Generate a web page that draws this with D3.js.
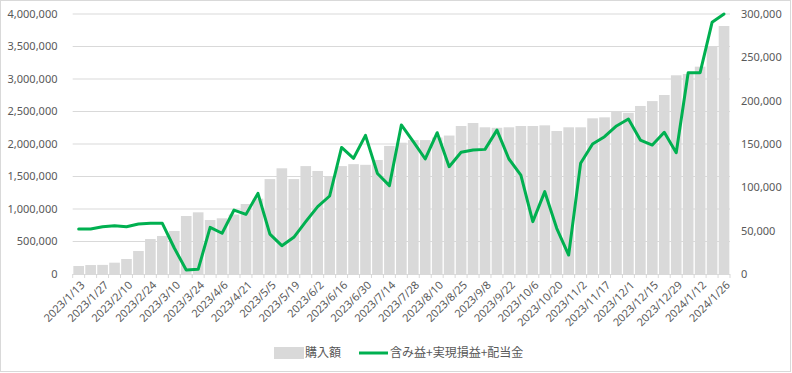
<!DOCTYPE html>
<html lang="ja">
<head>
<meta charset="utf-8">
<script src="https://d3js.org/d3.v7.min.js"></script>
<style>
  body { margin: 0; background: #fff; }
  .tick-label { font: 11px "Noto Sans", sans-serif; fill: #595959; }
  .legend-label { font: 12px "Noto Sans CJK JP", sans-serif; fill: #595959; }
</style>
</head>
<body>
<div id="chart"></div>
<script>
  // weekly dates (every other one is labelled)
  var dates = ["2023/1/13","2023/1/20","2023/1/27","2023/2/3","2023/2/10","2023/2/17","2023/2/24",
    "2023/3/3","2023/3/10","2023/3/17","2023/3/24","2023/3/31","2023/4/6","2023/4/14","2023/4/21",
    "2023/4/28","2023/5/5","2023/5/12","2023/5/19","2023/5/26","2023/6/2","2023/6/9","2023/6/16",
    "2023/6/23","2023/6/30","2023/7/7","2023/7/14","2023/7/21","2023/7/28","2023/8/4","2023/8/10",
    "2023/8/18","2023/8/25","2023/9/1","2023/9/8","2023/9/15","2023/9/22","2023/9/29","2023/10/6",
    "2023/10/13","2023/10/20","2023/10/27","2023/11/2","2023/11/10","2023/11/17","2023/11/24",
    "2023/12/1","2023/12/8","2023/12/15","2023/12/22","2023/12/29","2024/1/5","2024/1/12",
    "2024/1/19","2024/1/26"];

  // 購入額 (left axis)
  var purchase = [123000,138000,140000,174000,231000,354000,538000,585000,662000,892000,
    949000,831000,857000,915000,1077000,1160000,1460000,1626000,1460000,1660000,
    1585000,1500000,1660000,1690000,1680000,1754000,1970000,2020000,2060000,2060000,
    2100000,2130000,2277000,2323000,2257000,2250000,2257000,2277000,2277000,2287000,
    2200000,2257000,2257000,2395000,2410000,2508000,2480000,2585000,2660000,2754000,
    3057000,3077000,3190000,3508000,3815000];

  // 含み益+実現損益+配当金 (right axis)
  var profit = [52000,52000,54600,55800,54600,57700,58500,58500,30000,4600,
    5400,53800,47000,73800,68800,93000,46000,32700,42300,60400,
    77700,90000,146000,133500,160000,116000,102000,172000,152700,132700,
    163000,123800,140400,143000,143800,166000,132700,114000,60400,95000,
    52700,21900,127700,150000,158400,170800,178800,154600,148800,163500,
    140000,232300,232300,290400,300000];

  var leftTicks = [0,500000,1000000,1500000,2000000,2500000,3000000,3500000,4000000];
  var rightTicks = [0,50000,100000,150000,200000,250000,300000];

  var W = 792, H = 373;
  var plotL = 72.7, plotR = 730, plotT = 14, plotB = 274;
  var barColor = "#d9d9d9", lineColor = "#00b050", gridColor = "#d9d9d9";

  var svg = d3.select("#chart").append("svg")
      .attr("width", W)
      .attr("height", H);

  svg.append("rect")
      .attr("x", 0.5).attr("y", 0.5)
      .attr("width", W - 2).attr("height", H - 2)
      .attr("fill", "#fff")
      .attr("stroke", "#d9d9d9");

  var xCat = d3.scaleBand().domain(dates).range([plotL, plotR]).padding(0);
  var xBar = d3.scaleBand().domain(dates).range([plotL, plotR])
      .paddingInner(0.11).paddingOuter(0.055);
  var yL = d3.scaleLinear().domain([0, 4000000]).range([plotB, plotT]);
  var yR = d3.scaleLinear().domain([0, 300000]).range([plotB, plotT]);
  var fmt = d3.format(",");

  // gridlines
  svg.selectAll(".grid")
      .data(leftTicks.slice(1)).enter()
      .append("line")
      .attr("x1", plotL).attr("x2", plotR)
      .attr("y1", function(d) { return yL(d); })
      .attr("y2", function(d) { return yL(d); })
      .attr("stroke", gridColor)
      .attr("stroke-width", 1);

  // bars
  svg.selectAll(".bar")
      .data(dates).enter()
      .append("rect")
      .attr("x", function(d) { return xBar(d); })
      .attr("width", xBar.bandwidth())
      .attr("y", function(d, i) { return yL(purchase[i]); })
      .attr("height", function(d, i) { return plotB - yL(purchase[i]); })
      .attr("fill", barColor);

  // x axis line + ticks at category boundaries
  svg.append("line")
      .attr("x1", plotL).attr("x2", plotR)
      .attr("y1", plotB + 0.5).attr("y2", plotB + 0.5)
      .attr("stroke", gridColor);

  var bounds = dates.map(function(d) { return xCat(d); }).concat([plotR]);
  svg.selectAll(".xtick")
      .data(bounds).enter()
      .append("line")
      .attr("x1", function(d) { return d; })
      .attr("x2", function(d) { return d; })
      .attr("y1", plotB).attr("y2", plotB + 4)
      .attr("stroke", gridColor);

  // line series
  var line = d3.line()
      .x(function(d, i) { return xCat(dates[i]) + xCat.bandwidth() / 2; })
      .y(function(d) { return yR(d); });

  svg.append("path")
      .datum(profit)
      .attr("d", line)
      .attr("fill", "none")
      .attr("stroke", lineColor)
      .attr("stroke-width", 3)
      .attr("stroke-linejoin", "round")
      .attr("stroke-linecap", "round");

  // left axis labels
  svg.selectAll(".yl")
      .data(leftTicks).enter()
      .append("text")
      .attr("class", "tick-label")
      .attr("x", 57.5)
      .attr("y", function(d) { return yL(d); })
      .attr("dy", "0.35em")
      .attr("text-anchor", "end")
      .text(function(d) { return fmt(d); });

  // right axis labels
  svg.selectAll(".yr")
      .data(rightTicks).enter()
      .append("text")
      .attr("class", "tick-label")
      .attr("x", 741)
      .attr("y", function(d) { return yR(d); })
      .attr("dy", "0.35em")
      .attr("text-anchor", "start")
      .text(function(d) { return fmt(d); });

  // x labels, every other date, rotated
  svg.selectAll(".xl")
      .data(dates.filter(function(d, i) { return i % 2 === 0; })).enter()
      .append("text")
      .attr("class", "tick-label")
      .attr("text-anchor", "end")
      .attr("transform", function(d) {
        return "translate(" + (xCat(d) + xCat.bandwidth() / 2 + 4) + "," + (plotB + 9) + ") rotate(-45)";
      })
      .attr("dy", "0.35em")
      .text(function(d) { return d; });

  // legend
  var lg = svg.append("g");
  lg.append("rect")
      .attr("x", 274).attr("y", 347)
      .attr("width", 30).attr("height", 12)
      .attr("fill", barColor);
  lg.append("text")
      .attr("class", "legend-label")
      .attr("x", 305).attr("y", 353)
      .attr("dy", "0.35em")
      .text("購入額");
  lg.append("line")
      .attr("x1", 359).attr("x2", 388)
      .attr("y1", 353).attr("y2", 353)
      .attr("stroke", lineColor)
      .attr("stroke-width", 3);
  lg.append("text")
      .attr("class", "legend-label")
      .attr("x", 390).attr("y", 353)
      .attr("dy", "0.35em")
      .text("含み益+実現損益+配当金");
</script>
</body>
</html>
